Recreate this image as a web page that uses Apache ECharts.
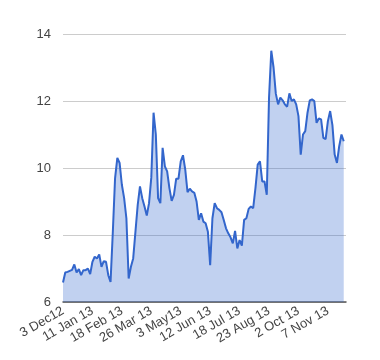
<!DOCTYPE html>
<html>
<head>
<meta charset="utf-8">
<script src="https://cdn.jsdelivr.net/npm/echarts@6/dist/echarts.min.js"></script>
<style>html,body{margin:0;padding:0;background:#fff}#c{width:380px;height:360px}</style>
</head>
<body>
<div id="c"></div>
<script>
// tick labels on the x axis (every 13th point)
const tickLabels = ['3 Dec12', '11 Jan 13', '18 Feb 13', '26 Mar 13', '3 May13', '12 Jun 13', '18 Jul 13', '23 Aug 13', '2 Oct 13', '7 Nov 13'];
const labelStep = 13;
// series values (one point ~ every 2 trading days)
const values = [
  6.58, 6.88, 6.9, 6.93, 6.96, 7.12, 6.88, 6.98, 6.8, 6.95,
  6.95, 7.0, 6.83, 7.2, 7.35, 7.3, 7.42, 7.05, 7.22, 7.2,
  6.8, 6.6, 8.08, 9.7, 10.3, 10.15, 9.5, 9.1, 8.5, 6.7,
  7.05, 7.3, 8.1, 8.9, 9.45, 9.1, 8.85, 8.58, 8.95, 9.72,
  11.65, 11.0, 9.1, 8.95, 10.6, 10.05, 9.9, 9.4, 9.02, 9.2,
  9.68, 9.68, 10.2, 10.38, 9.95, 9.28, 9.38, 9.3, 9.26, 9.0,
  8.45, 8.65, 8.4, 8.35, 8.1, 7.1, 8.5, 8.95, 8.8, 8.75,
  8.68, 8.45, 8.2, 8.05, 7.93, 7.75, 8.12, 7.6, 7.85, 7.68,
  8.45, 8.5, 8.78, 8.85, 8.8, 9.4, 10.1, 10.2, 9.6, 9.6,
  9.2, 12.1, 13.5, 13.0, 12.22, 11.9, 12.1, 12.02, 11.9, 11.83,
  12.23, 12.0, 12.05, 11.9, 11.55, 10.4, 11.0, 11.1, 11.65, 12.02,
  12.05, 12.0, 11.35, 11.48, 11.45, 10.9, 10.86, 11.4, 11.7, 11.28,
  10.4, 10.15, 10.65, 11.0, 10.8, null
];
const yTicks = [6, 8, 10, 12, 14];

const categories = values.map((v, i) => (i % labelStep === 0 && tickLabels[i / labelStep]) ? tickLabels[i / labelStep] : '');

const chart = echarts.init(document.getElementById('c'), null, {renderer: 'canvas'});
chart.setOption({
  animation: false,
  grid: {left: 63, right: 34, top: 34, bottom: 58},
  xAxis: {
    type: 'category',
    data: categories,
    boundaryGap: false,
    axisLine: {show: true, lineStyle: {color: '#555', width: 1.5}},
    axisTick: {show: false},
    splitLine: {show: false},
    axisLabel: {
      interval: labelStep - 1,
      rotate: 30,
      margin: 8,
      color: '#444',
      fontFamily: 'Liberation Sans, Arial, sans-serif',
      fontSize: 13
    }
  },
  yAxis: {
    type: 'value',
    min: yTicks[0],
    max: yTicks[yTicks.length - 1],
    interval: 2,
    axisLine: {show: false},
    axisTick: {show: false},
    splitLine: {lineStyle: {color: '#cccccc', width: 1}},
    axisLabel: {
      margin: 12,
      color: '#444',
      fontFamily: 'Liberation Sans, Arial, sans-serif',
      fontSize: 13
    }
  },
  series: [{
    type: 'line',
    data: values,
    symbol: 'none',
    smooth: false,
    lineStyle: {color: '#3366cc', width: 2},
    areaStyle: {color: '#3366cc', opacity: 0.3},
    connectNulls: false
  }]
});
</script>
</body>
</html>
